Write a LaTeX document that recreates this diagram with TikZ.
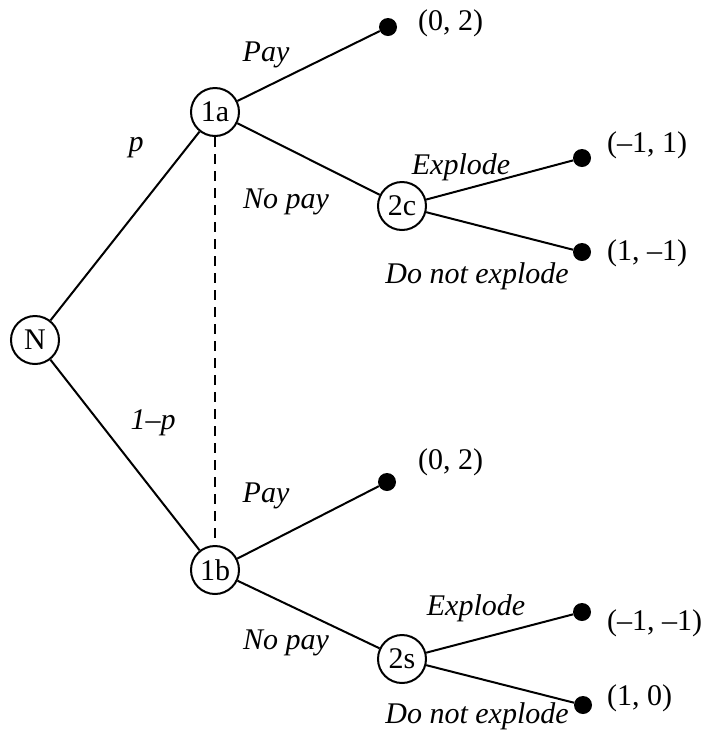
\documentclass[tikz,border=0pt]{standalone}
\usepackage{fontspec}
\setmainfont{Liberation Serif}
\usetikzlibrary{positioning}

\begin{document}
\begin{tikzpicture}[
    x=1pt, y=-1pt,
    player/.style={circle, draw, line width=2pt, minimum size=48pt, inner sep=0pt, font=\fontsize{30}{36}\selectfont},
    leaf/.style={circle, fill=black, minimum size=18pt, inner sep=0pt},
    move/.style={inner sep=0pt, font=\fontsize{30}{36}\selectfont\itshape},
    payoff/.style={inner sep=0pt, font=\fontsize{30}{36}\selectfont},
    branch/.style={line width=2pt},
    info/.style={line width=2pt, dash pattern=on 10pt off 7pt}
  ]

  \useasboundingbox (0,0) rectangle (703,732);

  % Decision nodes
  \node[player] (N) at (35, 340) {N};
  \node[player] (p1a) at (215, 112) {1a};
  \node[player] (p1b) at (215, 570) {1b};
  \node[player] (p2c) at (402, 206) {2c};
  \node[player] (p2s) at (402, 659) {2s};

  % Terminal nodes
  \foreach \name/\x/\y in {t1/388/27, t2/582/158, t3/582/252, t4/387/482, t5/582/612, t6/583/705} {
    \node[leaf] (\name) at (\x, \y) {};
  }

  % Branches
  \draw[branch] (N) -- (p1a);
  \draw[branch] (N) -- (p1b);
  \draw[branch] (p1a) -- (t1);
  \draw[branch] (p1a) -- (p2c);
  \draw[branch] (p2c) -- (t2);
  \draw[branch] (p2c) -- (t3);
  \draw[branch] (p1b) -- (t4);
  \draw[branch] (p1b) -- (p2s);
  \draw[branch] (p2s) -- (t5);
  \draw[branch] (p2s) -- (t6);

  % Information set
  \draw[info] (p1a) -- (p1b);

  % Move labels
  \node[move] (lp) at (136, 148) {p};
  \node[move] (lq) at (153, 423) {1–p};
  \node[move] (pay1) at (266, 55) {Pay};
  \node[move] (nop1) at (286, 202) {No pay};
  \node[move] (pay2) at (266, 496) {Pay};
  \node[move] (nop2) at (286, 643) {No pay};
  \node[move] (ex1) at (461, 167) {Explode};
  \node[move] (dn1) at (477, 276) {Do not explode};
  \node[move] (ex2) at (476, 608) {Explode};
  \node[move] (dn2) at (477, 716) {Do not explode};

  % Payoffs
  \node[payoff, anchor=west] (u1) at (418, 23) {(0, 2)};
  \node[payoff, anchor=west] (u2) at (607, 145) {(–1, 1)};
  \node[payoff, anchor=west] (u3) at (607, 253) {(1, –1)};
  \node[payoff, anchor=west] (u4) at (418, 462) {(0, 2)};
  \node[payoff, anchor=west] (u5) at (607, 623) {(–1, –1)};
  \node[payoff, anchor=west] (u6) at (607, 698) {(1, 0)};

\end{tikzpicture}
\end{document}
